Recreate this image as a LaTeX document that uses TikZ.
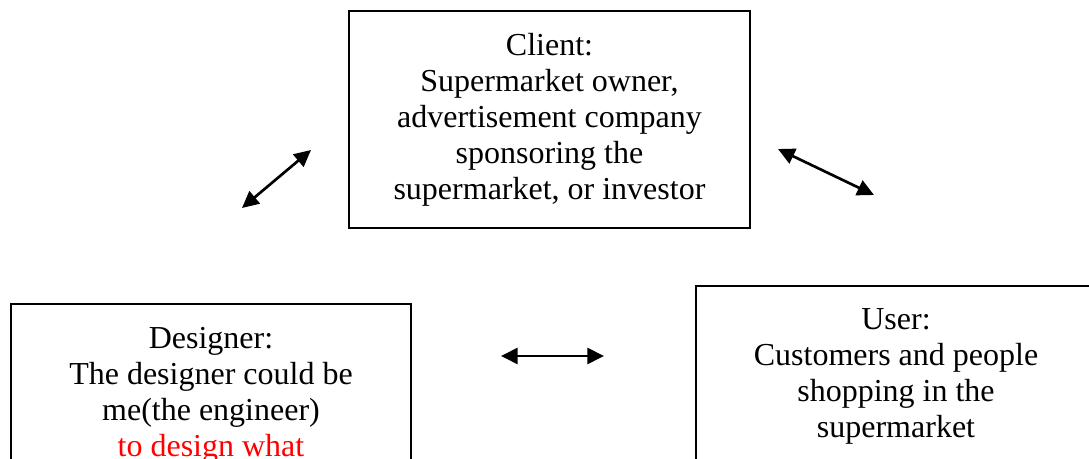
\documentclass[tikz,border=0pt]{standalone}
\usepackage{fontspec}
\setmainfont{Liberation Serif}
\usetikzlibrary{arrows.meta}
\begin{document}
\begin{tikzpicture}[x=0.75pt,y=-0.75pt,
  box/.style={draw,line width=1.3pt,rectangle,inner sep=0pt},
  txt/.style={align=center,font=\fontsize{24}{27}\selectfont,inner sep=0pt},
  link/.style={line width=2pt,{Triangle[length=12.5pt,width=12pt]}-{Triangle[length=12.5pt,width=12pt]}}]
\useasboundingbox (0,0) rectangle (1089,459);
\clip (0,0) rectangle (1089,459);
% Client box
\node[box,txt,minimum width=300.75pt,minimum height=162.75pt] (client) at (549.5,119.5)
  {Client:\\Supermarket owner,\\advertisement company\\sponsoring the\\supermarket, or investor};
% Designer box
\node[box,minimum width=300pt,minimum height=187.5pt] (designer) at (211,429) {};
\node[txt,anchor=north] (designertext) at (211,327)
  {Designer:\\The designer could be\\me(the engineer)\\\textcolor{red}{to design what}};
% User box
\node[box,minimum width=300pt,minimum height=187.5pt] (user) at (896,411) {};
\node[txt,anchor=north] (usertext) at (896,308)
  {User:\\Customers and people\\shopping in the\\supermarket};
% arrow end points
\coordinate (a1s) at (242,208);
\coordinate (a1e) at (311,150);
\coordinate (a2s) at (778,149);
\coordinate (a2e) at (874,195);
\coordinate (a3s) at (501,356);
\coordinate (a3e) at (604,356);
\draw[link] (a1s) -- (a1e);
\draw[link] (a2s) -- (a2e);
\draw[link] (a3s) -- (a3e);
\end{tikzpicture}
\end{document}
